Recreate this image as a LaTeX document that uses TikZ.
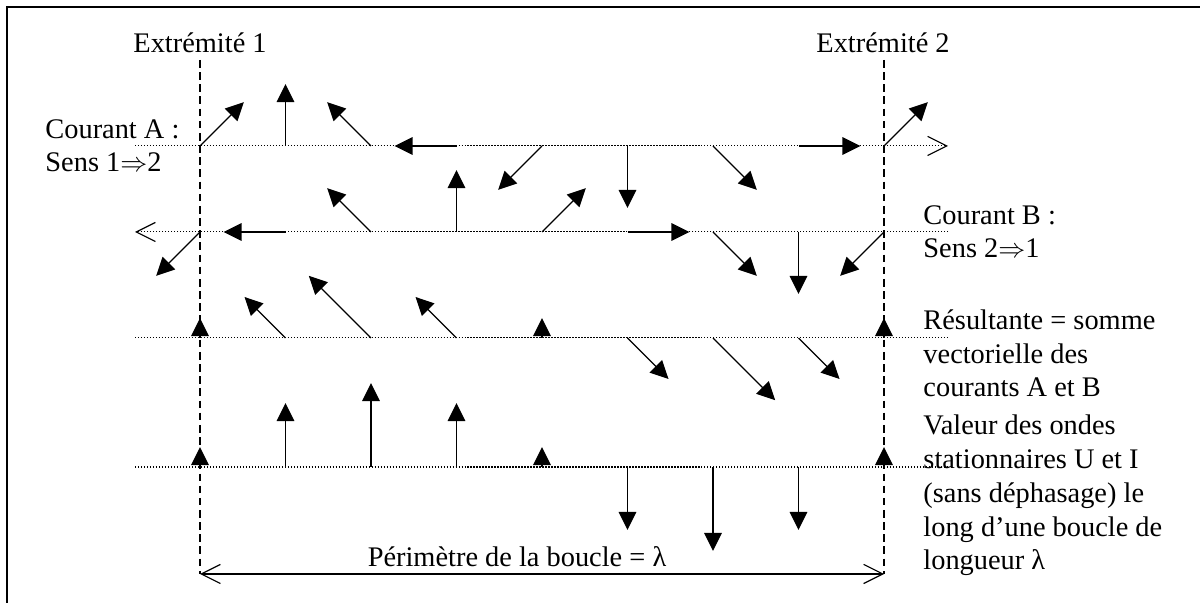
\documentclass[tikz,border=0pt]{standalone}
\usepackage{fontspec}
\setmainfont{Liberation Serif}
\usetikzlibrary{arrows.meta}
\begin{document}
\begin{tikzpicture}[x=0.444pt, y=0.444pt, >={Triangle[length=8pt, width=7.8pt]},
  every node/.style={font=\fontsize{12.6}{15}\selectfont, inner sep=0pt},
  vec/.style={->, line width=0.6pt},
  wire/.style={line width=0.45pt, dash pattern=on 0.6pt off 0.73pt},
  extr/.style={line width=0.8pt, dash pattern=on 3.4pt off 2pt},
  barb/.tip={Straight Barb[length=8.5pt, width=8.5pt, line width=0.5pt]}]
\useasboundingbox (0,0) rectangle (1200,603);
\draw[line width=0.8pt] (7,0) -- (7,596) -- (1200,596);
% points along the loop
\foreach \k in {0,...,8}{
  \pgfmathsetmacro{\xk}{200+85.5*\k}
  \coordinate (a\k) at (\xk,457);
  \coordinate (b\k) at (\xk,371);
  \coordinate (r\k) at (\xk,265);
  \coordinate (v\k) at (\xk,136);
}
\coordinate (aL) at (135,457); \coordinate (aR) at (948,457);
\coordinate (bL) at (135,371); \coordinate (bR) at (948,371);
\coordinate (rL) at (135,265); \coordinate (rR) at (948,265);
\coordinate (vL) at (135,136); \coordinate (vR) at (948,136);
\coordinate (e1t) at (200,543); \coordinate (e1b) at (200,29);
\coordinate (e2t) at (884,543); \coordinate (e2b) at (884,29);
\draw[wire, -barb] (aL) -- (aR);
\draw[wire, -barb] (bR) -- (bL);
\draw[wire] (rL) -- (rR);
\draw[wire] (vL) -- (vR);
\draw[extr] (e1t) -- (e1b);
\draw[extr] (e2t) -- (e2b);
\draw[barb-barb, line width=0.6pt] (e1b) -- (e2b);
% courants A et B
\foreach \k in {0,...,8}{
  \draw[vec] (a\k) -- ++({45+45*\k}:62);
  \draw[vec] (b\k) -- ++({225-45*\k}:62);
}
% resultante et ondes stationnaires
\foreach \k/\ang/\len in {0/90/20, 1/135/58, 2/135/88, 3/135/58, 4/90/20, 5/-45/58, 6/-45/88, 7/-45/58, 8/90/20}
  \draw[vec] (r\k) -- ++(\ang:\len);
\foreach \k/\ang/\len in {0/90/20, 1/90/64, 2/90/84, 3/90/64, 4/90/20, 5/-90/63, 6/-90/84, 7/-90/63, 8/90/20}
  \draw[vec] (v\k) -- ++(\ang:\len);
% multi-line nodes: base = last line
\node[anchor=base west] (ext1) at (133,550) {Extrémité 1};
\node[anchor=base west] (ext2) at (816,550) {Extrémité 2};
\node[anchor=base west, align=left] (curA) at (45,431) {Courant A :\\Sens 1$\Rightarrow$2};
\node[anchor=base west, align=left] (curB) at (923,345) {Courant B :\\Sens 2$\Rightarrow$1};
\node[anchor=base west, align=left] (res) at (923,206) {Résultante = somme\\vectorielle des\\courants A et B};
\node[anchor=base west, align=left] (val) at (923,33) {Valeur des ondes\\stationnaires U et I\\(sans déphasage) le\\long d’une boucle de\\longueur λ};
\node[anchor=base] (perim) at (517,36) {Périmètre de la boucle = λ};
\end{tikzpicture}
\end{document}
